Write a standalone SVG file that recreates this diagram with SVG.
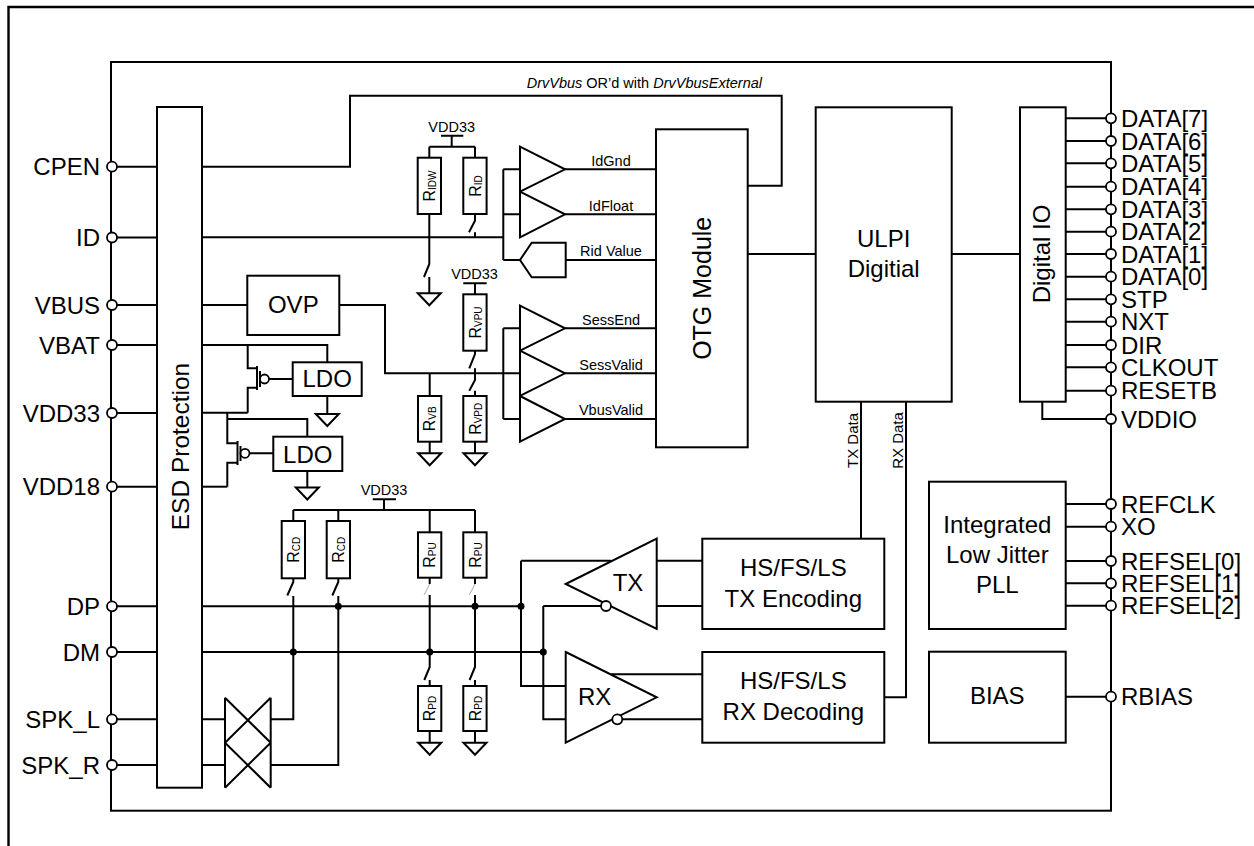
<svg xmlns="http://www.w3.org/2000/svg" width="1254" height="846" viewBox="0 0 1254 846">
<style>
.w{fill:none;stroke:#000;stroke-width:2;stroke-linejoin:miter}
.bx{fill:#fff;stroke:#000;stroke-width:2}
.pin{fill:#fff;stroke:#000;stroke-width:1.8}
.dot{fill:#000}
.faint{fill:none;stroke:#aaa;stroke-width:1}
text{font-family:"Liberation Sans",Arial,sans-serif;fill:#000}
.pl{font-size:24px;text-anchor:end}
.pr{font-size:24px}
.big{font-size:24px;text-anchor:middle}
.sm{font-size:14.5px;text-anchor:middle}
.res{font-size:16px;text-anchor:middle}
.sub{font-size:10px}
</style>
<defs>
<path id="gnd" d="M-11.5,0 H11.5 L0,12 Z" fill="#fff" stroke="#000" stroke-width="2"/>
</defs>
<rect width="1254" height="846" fill="#fff"/>
<path id="outer-frame" d="M8.5,850 V7 H1262" fill="none" stroke="#000" stroke-width="2.4"/>
<rect id="chip" x="111" y="62" width="1000" height="748.7" class="w"/>

<g id="connectors" class="w">
<!-- left pin leads -->
<path d="M117,166.7H157M117,237.5H157M117,305H157M117,345H157M117,413H157M117,486.7H157M117,606.3H157M117,652H157M117,719.3H157M117,765H157"/>
<!-- CPEN / DrvVbus -->
<path d="M202,166.7H350V95.7H781.7V185.7H747.7"/>
<!-- ID -->
<path d="M202,237.3H503.3M503.3,169.3V260M503.3,169.3H520M503.3,214.3H520M503.3,260H520"/>
<!-- VBUS -->
<path d="M202,305H247.3M339.3,305H385V373.3H520M503.3,328.3V419M503.3,328.3H520M503.3,419H520"/>
<!-- comparator outputs -->
<path d="M565,169.3H656M565,214.3H656M565.7,260H656M565,328.3H656M565,373.3H656M565,419H656"/>
<!-- VBAT & PMOS1 -->
<path d="M202,345H327.3V362.3M247.7,345V368.3H257M257,387.7H247.7V412.7M269,379H292.7"/>
<!-- VDD33 & PMOS2 -->
<path d="M202,412.7H247.7M227.3,412.7V443.3H237.5M227.3,419H307.3V436.7M237.5,462.7H227.3V486.7M249.5,453.3H273.3"/>
<!-- VDD18 -->
<path d="M202,486.7H227.3"/>
<!-- LDO grounds -->
<path d="M327.3,396V414M307.3,471V487.5"/>
<!-- top resistor network -->
<path d="M429.3,146.7H475M429.3,146.7V157.7M475,146.7V157.7M451.7,146.7V135.7M441,135.7H463.3"/>
<path d="M429.3,214V264L424,277M429.3,277V293.3M475,214V220.7L469,232.3M475,232.3V237.3"/>
<!-- VBUS resistors -->
<path d="M475,283.3V294.3M463.3,283.3H486.7M475,350.7V354L469.3,368.3M475,368.3V380L469.3,390.7M475,390.7V396M475,441.7V453.3"/>
<path d="M429.7,373.3V396M429.7,441.7V453.3"/>
<!-- DP / DM / SPK -->
<path d="M202,606.3H521M202,652H543.3"/>
<path d="M202,719.3H225M270.7,719.3H293.3V596M202,765H225M270.7,765H338.3V596"/>
<!-- bottom resistor network -->
<path d="M293.3,510H475M293.3,510V521M338.3,510V521M429.7,510V532.3M475,510V532.3M384,510V499.3M372.7,499.3H396"/>
<path d="M293.3,578.3V582L287.3,595.5M338.3,578.3V582L332.3,595.5"/>
<path d="M429.7,577.7V584M429.7,595V667L424.3,680M429.7,680V686M429.7,731V742.7"/>
<path d="M475,577.7V584M475,595V667L469.6,680M475,680V686M475,731V742.7"/>
<path class="faint" d="M429.7,584L424,595M475,584L469.3,595"/>
<!-- TX / RX wiring -->
<path d="M521,560.7H611M521,560.7V686H565.7M543.3,606H601M543.3,606V719.3H565.7"/>
<path d="M656.7,560.7H702.3M656.7,606H702.3M611,674.3H702.3M622.3,719.3H702.3"/>
<path d="M861,401.7V538.7M906,401.7V697.3H884.3"/>
<!-- digital -->
<path d="M747.7,254H815.7M951.7,254H1020"/>
<path d="M1065.7,118.3H1106M1065.7,141H1106M1065.7,163.3H1106M1065.7,186.7H1106M1065.7,209.3H1106M1065.7,231.7H1106M1065.7,254H1106M1065.7,276.7H1106M1065.7,299.3H1106M1065.7,321.7H1106M1065.7,345H1106M1065.7,367.3H1106M1065.7,390.7H1106M1042.3,401.7V419H1106"/>
<path d="M1065.7,504H1106M1065.7,526.7H1106M1065.7,561H1106M1065.7,583.3H1106M1065.7,605.7H1106M1065.7,696.7H1106"/>
</g>

<g id="junctions" class="dot">
<circle cx="338.3" cy="606.3" r="3.5"/><circle cx="475" cy="606.3" r="3.5"/><circle cx="521" cy="606.3" r="3.5"/>
<circle cx="293.3" cy="652" r="3.5"/><circle cx="429.7" cy="652" r="3.5"/><circle cx="543.3" cy="652" r="3.5"/>
</g>

<g id="esd"><rect x="157" y="107" width="45" height="680.7" class="w"/>
<text class="big" transform="translate(188.5,446.5) rotate(-90)" style="font-size:24.5px">ESD Protection</text></g>

<g id="ovp"><rect x="247.3" y="275.7" width="92" height="59.3" class="w"/><text class="big" x="293.3" y="313.3">OVP</text></g>
<g id="ldo1"><rect x="292.7" y="362.3" width="69" height="33.7" class="w"/><text class="big" x="327.2" y="387.3">LDO</text></g>
<g id="ldo2"><rect x="273.3" y="436.7" width="69" height="34.3" class="w"/><text class="big" x="307.8" y="462.8">LDO</text></g>
<g id="pmos1" class="w"><path d="M257,366V390M260,371V387"/><circle cx="264.5" cy="379" r="4.5" class="pin"/></g>
<g id="pmos2" class="w"><path d="M237.5,441V465M240.5,446V461"/><circle cx="245" cy="453.3" r="4.5" class="pin"/></g>

<g id="grounds">
<use href="#gnd" x="429.3" y="293.3"/><use href="#gnd" x="327.3" y="414"/><use href="#gnd" x="307.3" y="487.5"/>
<use href="#gnd" x="429.7" y="453.3"/><use href="#gnd" x="475" y="453.3"/>
<use href="#gnd" x="429.7" y="742.7"/><use href="#gnd" x="475" y="742.7"/>
</g>

<g id="vdd33-labels">
<text class="sm" x="451.7" y="131.7">VDD33</text><text class="sm" x="474.5" y="279.3">VDD33</text><text class="sm" x="384" y="495">VDD33</text>
</g>

<g id="r-idw"><rect x="417.7" y="157.7" width="23.3" height="56.3" class="bx"/><text class="res" transform="translate(435,186) rotate(-90)">R<tspan class="sub" dy="1">IDW</tspan></text></g>
<g id="r-id"><rect x="463.3" y="157.7" width="23.3" height="56.3" class="bx"/><text class="res" transform="translate(480.7,186) rotate(-90)">R<tspan class="sub" dy="1">ID</tspan></text></g>
<g id="r-vpu"><rect x="463.3" y="294.3" width="23.3" height="56.4" class="bx"/><text class="res" transform="translate(480.7,322.5) rotate(-90)">R<tspan class="sub" dy="1">VPU</tspan></text></g>
<g id="r-vb"><rect x="418" y="396" width="23.3" height="45.7" class="bx"/><text class="res" transform="translate(435.4,418.8) rotate(-90)">R<tspan class="sub" dy="1">VB</tspan></text></g>
<g id="r-vpd"><rect x="463.3" y="396" width="23.3" height="45.7" class="bx"/><text class="res" transform="translate(480.7,418.8) rotate(-90)">R<tspan class="sub" dy="1">VPD</tspan></text></g>
<g id="r-cd1"><rect x="281.7" y="521" width="23.3" height="57.3" class="bx"/><text class="res" transform="translate(299,549.7) rotate(-90)">R<tspan class="sub" dy="1">CD</tspan></text></g>
<g id="r-cd2"><rect x="326.7" y="521" width="23.3" height="57.3" class="bx"/><text class="res" transform="translate(344,549.7) rotate(-90)">R<tspan class="sub" dy="1">CD</tspan></text></g>
<g id="r-pu1"><rect x="418" y="532.3" width="23.3" height="45.4" class="bx"/><text class="res" transform="translate(435.4,555) rotate(-90)">R<tspan class="sub" dy="1">PU</tspan></text></g>
<g id="r-pu2"><rect x="463.3" y="532.3" width="23.3" height="45.4" class="bx"/><text class="res" transform="translate(480.7,555) rotate(-90)">R<tspan class="sub" dy="1">PU</tspan></text></g>
<g id="r-pd1"><rect x="418" y="686" width="23.3" height="45" class="bx"/><text class="res" transform="translate(435.4,708.5) rotate(-90)">R<tspan class="sub" dy="1">PD</tspan></text></g>
<g id="r-pd2"><rect x="463.3" y="686" width="23.3" height="45" class="bx"/><text class="res" transform="translate(480.7,708.5) rotate(-90)">R<tspan class="sub" dy="1">PD</tspan></text></g>

<g id="comp-idgnd"><path d="M520,146.7L565,169.3L520,191.7Z" class="w"/><text class="sm" x="611" y="166">IdGnd</text></g>
<g id="comp-idfloat"><path d="M520,191.7L565,214.3L520,237.3Z" class="w"/><text class="sm" x="611" y="210.7">IdFloat</text></g>
<g id="adc-rid"><path d="M520,260L531.7,242.7H565.7V277.3H531.7Z" class="w"/><text class="sm" x="611" y="256">Rid Value</text></g>
<g id="comp-sessend"><path d="M520,305.7L565,328.3L520,350.7Z" class="w"/><text class="sm" x="611" y="325">SessEnd</text></g>
<g id="comp-sessvalid"><path d="M520,350.7L565,373.3L520,396Z" class="w"/><text class="sm" x="611" y="370">SessValid</text></g>
<g id="comp-vbusvalid"><path d="M520,396L565,419L520,441.7Z" class="w"/><text class="sm" x="611" y="415">VbusValid</text></g>

<g id="drvvbus-label"><text class="sm" x="762" y="88.3" style="text-anchor:end"><tspan font-style="italic">DrvVbus</tspan> OR’d with <tspan font-style="italic">DrvVbusExternal</tspan></text></g>

<g id="otg"><rect x="656" y="129.3" width="91.7" height="318" class="w"/><text class="big" transform="translate(710.5,288.3) rotate(-90)" style="font-size:25px">OTG Module</text></g>
<g id="ulpi"><rect x="815.7" y="107.3" width="136" height="294.4" class="w"/><text class="big" x="883.7" y="246.7">ULPI</text><text class="big" x="883.7" y="276.7">Digitial</text></g>
<g id="digital-io"><rect x="1020" y="107.3" width="45.7" height="294.4" class="w"/><text class="big" transform="translate(1050,254) rotate(-90)">Digital IO</text></g>

<g id="tx-data-label"><text transform="translate(858.3,440.5) rotate(-90)" style="font-size:15px;text-anchor:middle">TX Data</text></g>
<g id="rx-data-label"><text transform="translate(902.7,440.5) rotate(-90)" style="font-size:15px;text-anchor:middle">RX Data</text></g>

<g id="tx-enc"><rect x="702.3" y="538.7" width="182" height="90.3" class="w"/><text class="big" x="793.3" y="575.7">HS/FS/LS</text><text class="big" x="793.3" y="606.7">TX Encoding</text></g>
<g id="rx-dec"><rect x="702.3" y="652" width="182" height="90.7" class="w"/><text class="big" x="793.3" y="689.3">HS/FS/LS</text><text class="big" x="793.3" y="720">RX Decoding</text></g>
<g id="tx-buf"><path d="M565.7,584L656.7,538.7V629Z" class="w"/><circle cx="606" cy="606" r="5" class="pin"/><text class="big" x="628" y="590.7">TX</text></g>
<g id="rx-buf"><path d="M565.7,652L656.7,697.3L565.7,742.7Z" class="w"/><circle cx="617.3" cy="719.3" r="5" class="pin"/><text class="big" x="594.7" y="705">RX</text></g>

<g id="analog-switch" class="w"><path d="M225,697.7V787.7M270.7,697.7V787.7M225,697.7L270.7,742.7M270.7,697.7L225,742.7M225,742.7L270.7,787.7M270.7,742.7L225,787.7"/></g>

<g id="pll"><rect x="929" y="481.7" width="136.7" height="147.3" class="w"/><text class="big" x="997.3" y="532.7">Integrated</text><text class="big" x="997.3" y="562.7">Low Jitter</text><text class="big" x="997.3" y="592.7">PLL</text></g>
<g id="bias"><rect x="929" y="651.7" width="136.7" height="91" class="w"/><text class="big" x="997.3" y="704">BIAS</text></g>

<g id="pins-left">
<g id="pin-cpen"><circle cx="112" cy="166.7" r="5" class="pin"/><text class="pl" x="100" y="175">CPEN</text></g>
<g id="pin-id"><circle cx="112" cy="237.5" r="5" class="pin"/><text class="pl" x="100" y="246">ID</text></g>
<g id="pin-vbus"><circle cx="112" cy="305" r="5" class="pin"/><text class="pl" x="100" y="313.5">VBUS</text></g>
<g id="pin-vbat"><circle cx="112" cy="345" r="5" class="pin"/><text class="pl" x="100" y="353.5">VBAT</text></g>
<g id="pin-vdd33"><circle cx="112" cy="413" r="5" class="pin"/><text class="pl" x="100" y="421.5">VDD33</text></g>
<g id="pin-vdd18"><circle cx="112" cy="486.7" r="5" class="pin"/><text class="pl" x="100" y="495">VDD18</text></g>
<g id="pin-dp"><circle cx="112" cy="606.3" r="5" class="pin"/><text class="pl" x="100" y="614.8">DP</text></g>
<g id="pin-dm"><circle cx="112" cy="652" r="5" class="pin"/><text class="pl" x="100" y="660.5">DM</text></g>
<g id="pin-spkl"><circle cx="112" cy="719.3" r="5" class="pin"/><text class="pl" x="100" y="727.8">SPK_L</text></g>
<g id="pin-spkr"><circle cx="112" cy="765" r="5" class="pin"/><text class="pl" x="100" y="773.5">SPK_R</text></g>
</g>

<g id="pins-right">
<g id="pin-data7"><circle cx="1111" cy="118.3" r="5" class="pin"/><text class="pr" x="1121" y="126.8">DATA[7]</text></g>
<g id="pin-data6"><circle cx="1111" cy="141" r="5" class="pin"/><text class="pr" x="1121" y="149.5">DATA[6]</text></g>
<g id="pin-data5"><circle cx="1111" cy="163.3" r="5" class="pin"/><text class="pr" x="1121" y="171.8">DATA[5]</text></g>
<g id="pin-data4"><circle cx="1111" cy="186.7" r="5" class="pin"/><text class="pr" x="1121" y="195.2">DATA[4]</text></g>
<g id="pin-data3"><circle cx="1111" cy="209.3" r="5" class="pin"/><text class="pr" x="1121" y="217.8">DATA[3]</text></g>
<g id="pin-data2"><circle cx="1111" cy="231.7" r="5" class="pin"/><text class="pr" x="1121" y="240.2">DATA[2]</text></g>
<g id="pin-data1"><circle cx="1111" cy="254" r="5" class="pin"/><text class="pr" x="1121" y="262.5">DATA[1]</text></g>
<g id="pin-data0"><circle cx="1111" cy="276.7" r="5" class="pin"/><text class="pr" x="1121" y="285.2">DATA[0]</text></g>
<g id="pin-stp"><circle cx="1111" cy="299.3" r="5" class="pin"/><text class="pr" x="1121" y="307.8">STP</text></g>
<g id="pin-nxt"><circle cx="1111" cy="321.7" r="5" class="pin"/><text class="pr" x="1121" y="330.2">NXT</text></g>
<g id="pin-dir"><circle cx="1111" cy="345" r="5" class="pin"/><text class="pr" x="1121" y="353.5">DIR</text></g>
<g id="pin-clkout"><circle cx="1111" cy="367.3" r="5" class="pin"/><text class="pr" x="1121" y="375.8">CLKOUT</text></g>
<g id="pin-resetb"><circle cx="1111" cy="390.7" r="5" class="pin"/><text class="pr" x="1121" y="399.2">RESETB</text></g>
<g id="pin-vddio"><circle cx="1111" cy="419" r="5" class="pin"/><text class="pr" x="1121" y="427.5">VDDIO</text></g>
<g id="pin-refclk"><circle cx="1111" cy="504" r="5" class="pin"/><text class="pr" x="1121" y="512.5">REFCLK</text></g>
<g id="pin-xo"><circle cx="1111" cy="526.7" r="5" class="pin"/><text class="pr" x="1121" y="535.2">XO</text></g>
<g id="pin-refsel0"><circle cx="1111" cy="561" r="5" class="pin"/><text class="pr" x="1121" y="569.5">REFSEL[0]</text></g>
<g id="pin-refsel1"><circle cx="1111" cy="583.3" r="5" class="pin"/><text class="pr" x="1121" y="591.8">REFSEL[1]</text></g>
<g id="pin-refsel2"><circle cx="1111" cy="605.7" r="5" class="pin"/><text class="pr" x="1121" y="614.2">REFSEL[2]</text></g>
<g id="pin-rbias"><circle cx="1111" cy="696.7" r="5" class="pin"/><text class="pr" x="1121" y="705.2">RBIAS</text></g>
</g>
</svg>
